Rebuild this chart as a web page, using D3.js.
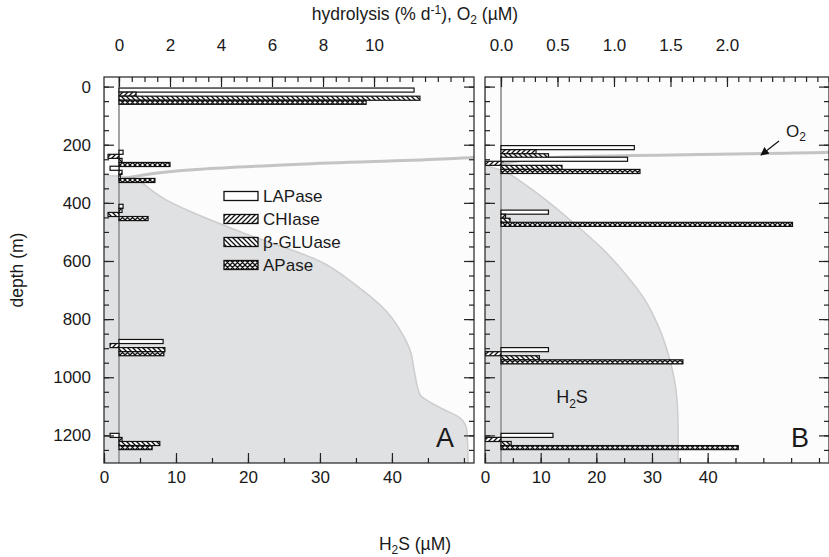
<!DOCTYPE html>
<html><head><meta charset="utf-8">
<script src="https://cdn.jsdelivr.net/npm/d3@7"></script>
<style>
body{margin:0;background:#fff}
svg text{font-family:"Liberation Sans",Arial,sans-serif;fill:#1a1a1a}
</style>
</head><body>
<svg id="c" width="829" height="557"></svg>
<script>
// ---------- data ----------
const enzymes = ["LAPase", "CHIase", "β-GLUase", "APase"];
// Panel A (hydrolysis % d-1)
const depthsA  = [33, 247, 302, 433, 898, 1221];
const lapaseA  = [11.57, 0.16, -0.35, 0.16, 1.73, -0.35];
const chiaseA  = [0.67, -0.43, 0.12, 0.12, -0.35, 0.12];
const bgluA    = [11.80, 0.12, 0.05, -0.43, 1.80, 1.60];
const apaseA   = [9.69, 2.00, 1.41, 1.14, 1.76, 1.30];
// Panel B
const depthsB  = [231, 271, 453, 926, 1221];
const lapaseB  = [1.18, 1.12, 0.42, 0.42, 0.46];
const chiaseB  = [0.31, -0.14, 0.04, -0.14, -0.14];
const bgluB    = [0.42, 0.54, 0.08, 0.34, 0.09];
const apaseB   = [0.02, 1.23, 2.58, 1.61, 2.10];
// H2S profiles (depth m, µM)
const h2sDepthA = [0, 303, 312, 330, 353, 388, 422, 500, 601, 681, 767, 836, 905, 991, 1060, 1105, 1139, 1181, 1300];
const h2sA      = [0, 0, 3.5, 5.2, 6.4, 8.5, 11.3, 19, 30, 34.9, 39, 41.1, 42.5, 43.2, 43.9, 46.7, 49.4, 50.4, 50.6];
const h2sDepthB = [0, 268, 285, 302, 329, 388, 474, 560, 646, 733, 836, 939, 1077, 1181, 1300];
const h2sB      = [0, 0, 2.5, 4.5, 6.6, 10.8, 16.2, 21.2, 25.3, 28.7, 31.4, 33.2, 34.5, 34.7, 34.7];
// O2 profiles (depth m, µM)
const o2DepthA = [200, 243, 267, 284, 312, 326];
const o2A      = [16, 13.9, 7.1, 3.2, 0.43, 0];
const o2DepthB = [215, 226, 243, 260, 268];
const o2B      = [3.5, 2.9, 0.52, 0.08, 0];
// axis ticks
const depthTicks = [0, 200, 400, 600, 800, 1000, 1200];
const hydTicksA = [0, 2, 4, 6, 8, 10];
const hydTicksB = [0, 0.5, 1.0, 1.5, 2.0];
const h2sTicks = [0, 10, 20, 30, 40];

// ---------- layout ----------
const svg = d3.select("#c");
const yTop = 77, yBot = 463;
const y = d3.scaleLinear().domain([-33, 1295]).range([yTop, yBot]);
const panels = [
  {id:"A", x0:104, x1:474, hyd:[-0.588, 13.92], h2s:[0, 51.4], depths:depthsA,
   vals:[lapaseA, chiaseA, bgluA, apaseA], hd:h2sDepthA, hv:h2sA, od:o2DepthA, ov:o2A,
   hydTicks:hydTicksA, hydMinor:0.5, fmt:d3.format("d"), labelLeft:true},
  {id:"B", x0:485, x1:829, hyd:[-0.1416, 2.903], h2s:[0, 61.8], depths:depthsB,
   vals:[lapaseB, chiaseB, bgluB, apaseB], hd:h2sDepthB, hv:h2sB, od:o2DepthB, ov:o2B,
   hydTicks:hydTicksB, hydMinor:0.1, fmt:d3.format(".1f"), labelLeft:false}
];

// patterns
const defs = svg.append("defs");
function pat(id, d){
  const p = defs.append("pattern").attr("id", id).attr("patternUnits","userSpaceOnUse")
    .attr("width",5).attr("height",5);
  p.append("rect").attr("width",5).attr("height",5).attr("fill","#fff");
  p.append("path").attr("d", d).attr("stroke","#111").attr("stroke-width",1.3).attr("fill","none");
}
pat("pF", "M-1,1 l2,-2 M0,5 l5,-5 M4,6 l2,-2");
pat("pB", "M-1,4 l2,2 M0,0 l5,5 M4,-1 l2,2");
pat("pX", "M-1,1 l2,-2 M0,5 l5,-5 M4,6 l2,-2 M-1,4 l2,2 M0,0 l5,5 M4,-1 l2,2");
const fills = ["#fff", "url(#pF)", "url(#pB)", "url(#pX)"];
const band = d3.scaleBand().domain(enzymes).range([-28, 28]);

panels.forEach(P => {
  const g = svg.append("g");
  const xh = d3.scaleLinear().domain(P.hyd).range([P.x0, P.x1]);
  const xs = d3.scaleLinear().domain(P.h2s).range([P.x0, P.x1]);
  const clipId = "clip" + P.id;
  defs.append("clipPath").attr("id", clipId).append("rect")
    .attr("x", P.x0).attr("y", yTop).attr("width", P.x1 - P.x0).attr("height", yBot - yTop);
  const inner = g.append("g").attr("clip-path", `url(#${clipId})`);
  inner.append("rect").attr("x",P.x0).attr("y",yTop).attr("width",P.x1-P.x0).attr("height",yBot-yTop).attr("fill","#fcfcfc");
  // H2S area
  const pts = P.hd.map((d,i)=>[d, P.hv[i]]);
  inner.append("path").datum(pts)
    .attr("d", d3.area().x0(xs(0)).x1(d=>xs(d[1])).y(d=>y(d[0])).curve(d3.curveMonotoneY))
    .attr("fill","#e0e1e3");
  inner.append("path").datum(pts)
    .attr("d", d3.line().x(d=>xs(d[1])).y(d=>y(d[0])).curve(d3.curveMonotoneY))
    .attr("fill","none").attr("stroke","#cdcdcf").attr("stroke-width",1.5);
  // O2 line
  const opts = P.od.map((d,i)=>[d, P.ov[i]]);
  inner.append("path").datum(opts)
    .attr("d", d3.line().x(d=>xh(d[1])).y(d=>y(d[0])).curve(d3.curveMonotoneY))
    .attr("fill","none").attr("stroke","#c4c4c4").attr("stroke-width",3);
  // zero line
  inner.append("line").attr("x1",xh(0)).attr("x2",xh(0)).attr("y1",yTop).attr("y2",yBot)
    .attr("stroke","#9a9a9a").attr("stroke-width",1.8);
  // bars
  P.depths.forEach((dep, i) => {
    enzymes.forEach((e, k) => {
      const v = P.vals[k][i];
      const yt = y(dep + band(e)), yb = y(dep + band(e) + band.bandwidth());
      inner.append("rect")
        .attr("x", xh(Math.min(0, v))).attr("width", Math.abs(xh(v) - xh(0)))
        .attr("y", yt).attr("height", yb - yt)
        .attr("fill", fills[k]).attr("stroke", "#111").attr("stroke-width", 1.2);
    });
  });
  // frame
  g.append("rect").attr("x",P.x0).attr("y",yTop).attr("width",P.x1-P.x0).attr("height",yBot-yTop)
    .attr("fill","none").attr("stroke","#222").attr("stroke-width",1.2);
  // axes (inward ticks)
  const tk = (sel)=>{sel.select(".domain").remove(); sel.selectAll("line").attr("stroke","#222").attr("stroke-width",1.2); sel.selectAll("text").attr("font-size",17).attr("fill","#1a1a1a");};
  const minorDepth = d3.range(0, 1300, 50);
  [["left",P.x0],["right",P.x1]].forEach(([side,xx])=>{
    const mk = () => side==="left"? d3.axisLeft(y) : d3.axisRight(y);
    g.append("g").attr("transform",`translate(${xx},0)`)
      .call(mk().tickValues(minorDepth).tickSize(-5).tickFormat(""))
      .call(tk);
    g.append("g").attr("transform",`translate(${xx},0)`)
      .call(mk().tickValues(depthTicks).tickSize(-10).tickPadding(13)
        .tickFormat(side==="left" && P.labelLeft ? d3.format("d") : ""))
      .call(tk);
  });
  // top axis (hydrolysis)
  const hmin = d3.range(0, P.hyd[1], P.hydMinor);
  g.append("g").attr("transform",`translate(0,${yTop})`)
    .call(d3.axisTop(xh).tickValues(hmin).tickSize(-5).tickFormat("")).call(tk);
  g.append("g").attr("transform",`translate(0,${yTop})`)
    .call(d3.axisTop(xh).tickValues(P.hydTicks).tickSize(-10).tickPadding(26).tickFormat(P.fmt)).call(tk);
  // bottom axis (H2S)
  const smin = d3.range(0, P.h2s[1], 5);
  g.append("g").attr("transform",`translate(0,${yBot})`)
    .call(d3.axisBottom(xs).tickValues(smin).tickSize(-5).tickFormat("")).call(tk);
  g.append("g").attr("transform",`translate(0,${yBot})`)
    .call(d3.axisBottom(xs).tickValues(h2sTicks).tickSize(-10).tickPadding(8).tickFormat(d3.format("d"))).call(tk);
  // panel letter
  g.append("text").attr("x", P.x1 - 29).attr("y", yBot - 16).attr("text-anchor","middle")
    .attr("font-size",27).text(P.id);
});

// legend
const leg = svg.append("g");
enzymes.forEach((e,k)=>{
  const yy = 196 + k*23;
  leg.append("rect").attr("x",224).attr("y",yy-4.5).attr("width",34).attr("height",9)
    .attr("fill",fills[k]).attr("stroke","#111").attr("stroke-width",1.3);
  leg.append("text").attr("x",263).attr("y",yy+6).attr("font-size",17).text(e);
});

// titles
svg.append("text").attr("x",415).attr("y",20).attr("text-anchor","middle").attr("font-size",17.5)
  .html('hydrolysis (% d<tspan dy="-6" font-size="12">-1</tspan><tspan dy="6">), O</tspan><tspan dy="4" font-size="12">2</tspan><tspan dy="-4"> (µM)</tspan>');
svg.append("text").attr("x",415).attr("y",550).attr("text-anchor","middle").attr("font-size",17.5)
  .html('H<tspan dy="4" font-size="12">2</tspan><tspan dy="-4">S (µM)</tspan>');
svg.append("text").attr("transform","translate(23,270) rotate(-90)").attr("text-anchor","middle").attr("font-size",17.5)
  .text("depth (m)");
// in-panel labels
svg.append("text").attr("x",572).attr("y",403).attr("text-anchor","middle").attr("font-size",18)
  .html('H<tspan dy="5" font-size="12">2</tspan><tspan dy="-5">S</tspan>');
svg.append("text").attr("x",786).attr("y",137).attr("text-anchor","start").attr("font-size",17)
  .html('O<tspan dy="4" font-size="12">2</tspan>');
defs.append("marker").attr("id","arr").attr("viewBox","0 0 10 10").attr("refX",9).attr("refY",5)
  .attr("markerWidth",7).attr("markerHeight",7).attr("orient","auto")
  .append("path").attr("d","M0,0 L10,5 L0,10 z").attr("fill","#111");
svg.append("line").attr("x1",779).attr("y1",141).attr("x2",761).attr("y2",155)
  .attr("stroke","#111").attr("stroke-width",1.2).attr("marker-end","url(#arr)");
</script>
</body></html>
